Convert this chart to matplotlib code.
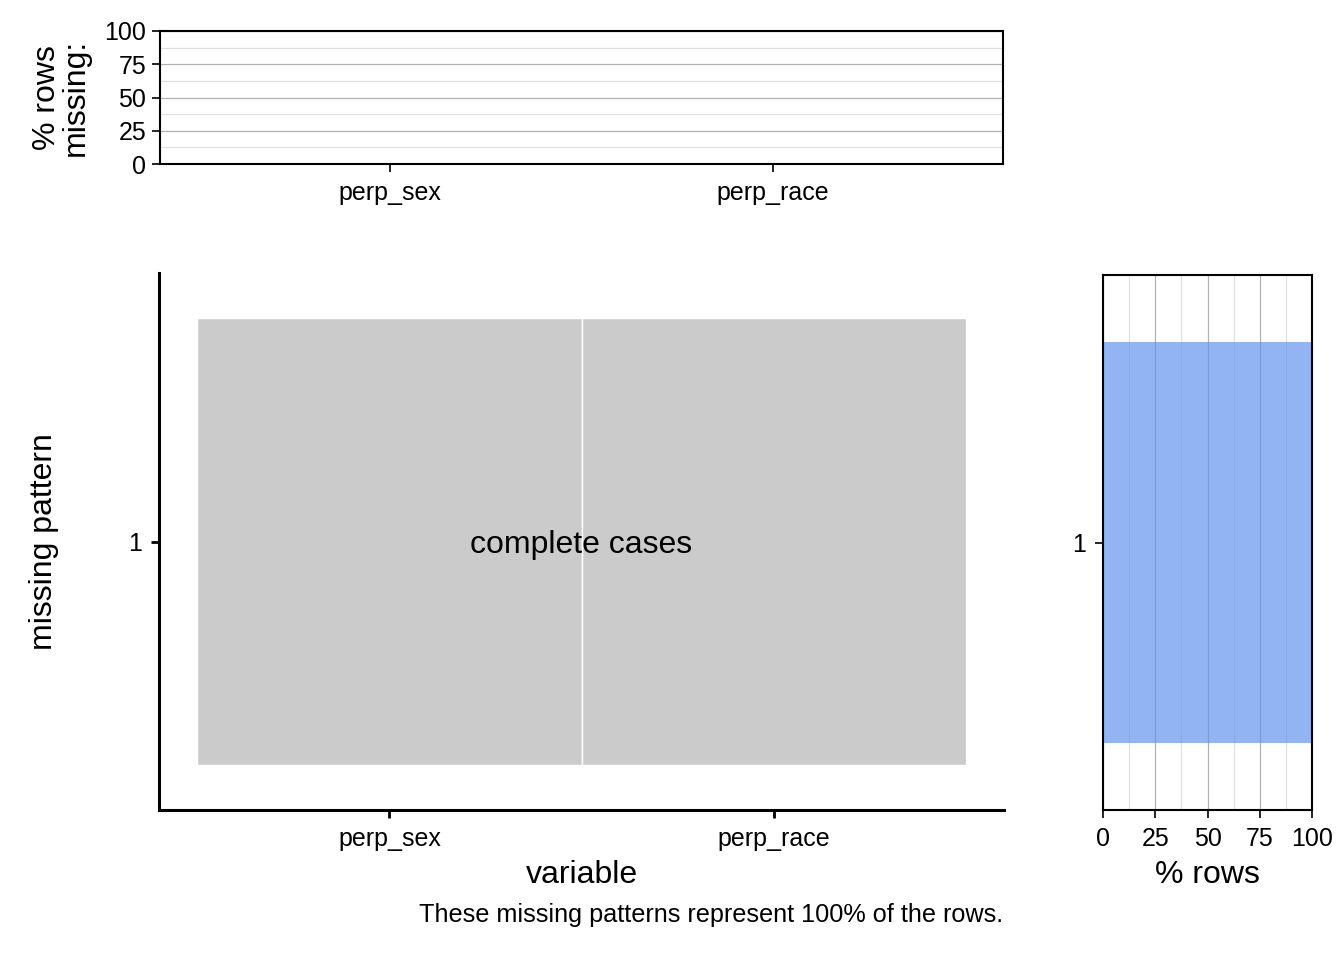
import matplotlib
matplotlib.use('Agg')
import matplotlib.pyplot as plt
import numpy as np

plt.rcParams['font.family'] = ['Liberation Sans', 'DejaVu Sans']

# data
variables = ['perp_sex', 'perp_race']
pct_missing = [0, 0]            # % rows missing per variable
patterns = ['1']
pattern_pct = [100]             # % rows per pattern
pattern_missing = [[0, 0]]      # 1 = missing, 0 = present
caption = 'These missing patterns represent 100% of the rows.'

W, H = 1344, 960
fig = plt.figure(figsize=(W / 100, H / 100), dpi=100)

def box(x0, y0, x1, y1):
    return [x0 / W, 1 - y1 / H, (x1 - x0) / W, (y1 - y0) / H]

tick_fs = 18
title_fs = 23
x = np.arange(1, len(variables) + 1)

# top panel: % rows missing per variable
ax_top = fig.add_axes(box(160, 31, 1003, 164))
ax_top.bar(x, pct_missing, width=0.9, color='cornflowerblue', alpha=0.7)
ax_top.set_xlim(0.4, 2.6)
ax_top.set_ylim(0, 100)
ax_top.set_yticks([0, 25, 50, 75, 100])
ax_top.set_yticks([12.5, 37.5, 62.5, 87.5], minor=True)
ax_top.set_xticks(x)
ax_top.set_xticklabels(variables)
ax_top.grid(axis='y', which='major', color='#b0b0b0', linewidth=0.9)
ax_top.grid(axis='y', which='minor', color='#e0e0e0', linewidth=0.9)
ax_top.set_axisbelow(True)
ax_top.tick_params(which='major', length=6, width=1.2, labelsize=tick_fs)
ax_top.tick_params(axis='x', pad=6)
ax_top.tick_params(axis='y', pad=4)
ax_top.tick_params(which='minor', length=0)
for s in ax_top.spines.values():
    s.set_linewidth(1.5)
ax_top.set_ylabel('% rows\nmissing:', fontsize=title_fs, linespacing=0.95,
                  va='center')
ax_top.yaxis.set_label_coords((61 - 160) / 843, 0.5)

# main panel: missing pattern tiles
ax = fig.add_axes(box(159, 273, 1004, 810))
for i, row in enumerate(pattern_missing):
    colors = ['#cbcbcb' if m == 0 else 'cornflowerblue' for m in row]
    ax.bar(x, [1] * len(row), bottom=i + 0.5, width=1, color=colors,
           edgecolor='white', linewidth=1)
ax.text(np.mean(x), 1, 'complete cases', ha='center', va='center_baseline',
        fontsize=title_fs)
ax.set_xlim(0.4, 2.6)
ax.set_ylim(0.4, 1.6)
ax.set_xticks(x)
ax.set_xticklabels(variables)
ax.set_yticks(range(1, len(patterns) + 1))
ax.set_yticklabels(patterns)
ax.spines['top'].set_visible(False)
ax.spines['right'].set_visible(False)
ax.spines['left'].set_linewidth(2.2)
ax.spines['bottom'].set_linewidth(2.2)
ax.tick_params(length=6, width=2, labelsize=tick_fs, pad=6)
ax.set_xlabel('variable', fontsize=title_fs, labelpad=7)
ax.set_ylabel('missing pattern', fontsize=title_fs, va='center')
ax.yaxis.set_label_coords((44 - 159) / 845, 0.5)

# right panel: % rows per pattern
ax_r = fig.add_axes(box(1103, 275, 1312, 810))
ax_r.barh(range(1, len(patterns) + 1), pattern_pct, height=0.9,
          color='cornflowerblue', alpha=0.7)
ax_r.set_xlim(0, 100)
ax_r.set_ylim(0.4, 1.6)
ax_r.set_xticks([0, 25, 50, 75, 100])
ax_r.set_xticks([12.5, 37.5, 62.5, 87.5], minor=True)
ax_r.set_yticks(range(1, len(patterns) + 1))
ax_r.set_yticklabels(patterns)
ax_r.grid(axis='x', which='major', color='#b0b0b0', linewidth=0.9)
ax_r.grid(axis='x', which='minor', color='#e0e0e0', linewidth=0.9)
ax_r.set_axisbelow(True)
ax_r.tick_params(which='major', length=6, width=1.2, labelsize=tick_fs, pad=6)
ax_r.tick_params(which='minor', length=0)
for s in ax_r.spines.values():
    s.set_linewidth(1.5)
ax_r.set_xlabel('% rows', fontsize=title_fs, labelpad=7)

fig.text(1003 / W, 1 - 915 / H, caption, ha='right', va='center', fontsize=18.2)

fig.savefig('out.png', dpi=100)
